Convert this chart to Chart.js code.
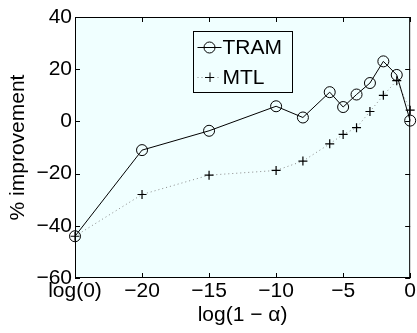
<!DOCTYPE html>
<html>
<head>
<meta charset="utf-8">
<script src="https://cdn.jsdelivr.net/npm/chart.js@4.4.0/dist/chart.umd.min.js"></script>
<style>
  html, body { margin: 0; padding: 0; background: #fff; }
  #wrap { width: 417px; height: 333px; }
</style>
</head>
<body>
<div id="wrap"><canvas id="chart"></canvas></div>
<script>
// Data (x = log(1 - alpha), -25 stands for log(0))
const xValues = [-25, -20, -15, -10, -8, -6, -5, -4, -3, -2, -1, 0];
const tramValues = [-44, -11, -3.6, 5.8, 1.5, 11.2, 5.5, 10.3, 14.7, 23, 17.8, 0.3];
const mtlValues = [-44, -28, -20.6, -18.8, -15.2, -8.6, -5, -2.4, 3.8, 10, 15.6, 4.3];
const xTicks = [-25, -20, -15, -10, -5, 0];
const seriesNames = ["TRAM", "MTL"];

const FONT = "'Liberation Sans', Arial, Helvetica, sans-serif";

const toPoints = (vals) => xValues.map((x, i) => ({ x: x, y: vals[i] }));
const minus = (v) => (v < 0 ? "\u2212" + Math.abs(v) : String(v));

// Box, inward ticks, background and legend, Matlab style
const boxPlugin = {
  id: "box",
  beforeDraw(chart) {
    const { ctx, chartArea: a } = chart;
    ctx.save();
    ctx.fillStyle = "#f0ffff";
    ctx.fillRect(a.left, a.top, a.right - a.left, a.bottom - a.top);
    ctx.restore();
  },
  afterDatasetsDraw(chart) {
    const { ctx, chartArea: a, scales } = chart;
    ctx.save();
    ctx.strokeStyle = "#000";
    ctx.lineWidth = 1;
    ctx.strokeRect(a.left + 0.5, a.top + 0.5, a.right - a.left - 1, a.bottom - a.top - 1);
    const len = 5;
    ctx.beginPath();
    scales.x.ticks.forEach((t) => {
      const px = Math.round(scales.x.getPixelForValue(t.value)) + 0.5;
      ctx.moveTo(px, a.bottom);
      ctx.lineTo(px, a.bottom - len);
      ctx.moveTo(px, a.top);
      ctx.lineTo(px, a.top + len);
    });
    scales.y.ticks.forEach((t) => {
      const py = Math.round(scales.y.getPixelForValue(t.value)) + 0.5;
      ctx.moveTo(a.left, py);
      ctx.lineTo(a.left + len, py);
      ctx.moveTo(a.right, py);
      ctx.lineTo(a.right - len, py);
    });
    ctx.stroke();

    // legend box
    const lx = 193.5, ly = 31.5, lw = 99, lh = 61;
    ctx.fillStyle = "#f0ffff";
    ctx.fillRect(lx, ly, lw, lh);
    ctx.strokeRect(lx, ly, lw, lh);
    ctx.font = "21px " + FONT;
    ctx.textBaseline = "middle";
    ctx.fillStyle = "#000";
    const rows = [47, 77];
    chart.data.datasets.forEach((ds, i) => {
      const y = rows[i];
      ctx.save();
      ctx.strokeStyle = ds.borderColor;
      ctx.setLineDash(ds.borderDash || []);
      ctx.beginPath();
      ctx.moveTo(lx + 4, y + 0.5);
      ctx.lineTo(lx + 28, y + 0.5);
      ctx.stroke();
      ctx.restore();
      ctx.strokeStyle = "#000";
      ctx.beginPath();
      const cx = lx + 16;
      if (ds.pointStyle === "circle") {
        ctx.arc(cx, y + 0.5, ds.pointRadius, 0, Math.PI * 2);
      } else {
        ctx.moveTo(cx - 4.5, y + 0.5);
        ctx.lineTo(cx + 4.5, y + 0.5);
        ctx.moveTo(cx + 0.5, y - 4.5);
        ctx.lineTo(cx + 0.5, y + 5);
      }
      ctx.stroke();
      ctx.fillText(ds.label, lx + 29, y + 1);
    });
    ctx.restore();
  },
};

new Chart(document.getElementById("chart"), {
  type: "line",
  data: {
    datasets: [
      {
        label: seriesNames[0],
        data: toPoints(tramValues),
        borderColor: "#000",
        borderWidth: 1,
        pointStyle: "circle",
        pointRadius: 5.5,
        pointBorderColor: "#000",
        pointBackgroundColor: "rgba(0,0,0,0)",
        pointBorderWidth: 1,
        clip: false,
      },
      {
        label: seriesNames[1],
        data: toPoints(mtlValues),
        borderColor: "#8a8a8a",
        borderDash: [1, 3],
        borderWidth: 1,
        pointStyle: "cross",
        pointRadius: 4.5,
        pointBorderColor: "#000",
        pointBorderWidth: 1.2,
        clip: false,
      },
    ],
  },
  options: {
    responsive: true,
    maintainAspectRatio: false,
    animation: false,
    layout: { padding: { top: 17, right: 6, left: 0, bottom: 0 } },
    plugins: {
      legend: { display: false },
      tooltip: { enabled: false },
    },
    scales: {
      x: {
        type: "linear",
        min: -25,
        max: 0,
        afterBuildTicks: (scale) => {
          scale.ticks = xTicks.map((v) => ({ value: v }));
        },
        afterFit: (scale) => {
          scale.height = 55;
        },
        grid: { display: false, drawTicks: false },
        border: { display: false },
        ticks: {
          color: "#000",
          padding: 1,
          maxRotation: 0,
          font: { family: FONT, size: 21 },
          callback: (v) => (v === -25 ? "log(0)" : minus(v)),
        },
        title: {
          display: true,
          text: "log(1 \u2212 \u03b1)",
          color: "#000",
          padding: { top: 0, bottom: 5 },
          font: { family: FONT, size: 21 },
        },
      },
      y: {
        min: -60,
        max: 40,
        afterFit: (scale) => {
          scale.width = 75;
        },
        grid: { display: false, drawTicks: false },
        border: { display: false },
        ticks: {
          stepSize: 20,
          color: "#000",
          padding: 3,
          font: { family: FONT, size: 21 },
          callback: (v) => minus(v),
        },
        title: {
          display: true,
          text: "% improvement",
          color: "#000",
          padding: { top: 6, bottom: 0 },
          font: { family: FONT, size: 21 },
        },
      },
    },
  },
  plugins: [boxPlugin],
});
</script>
</body>
</html>
